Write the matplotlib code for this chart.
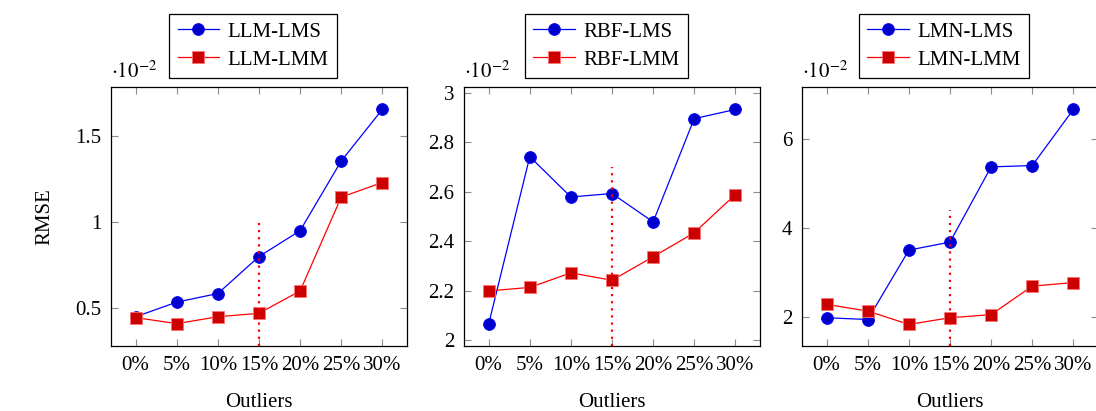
import matplotlib
matplotlib.use('Agg')
import matplotlib.pyplot as plt
from matplotlib.ticker import FuncFormatter

plt.rcParams['font.family'] = ['Liberation Serif', 'DejaVu Serif']
plt.rcParams['mathtext.fontset'] = 'stix'

# outlier percentages on the x axis
outliers = [0, 5, 10, 15, 20, 25, 30]
xlabels = ['0%', '5%', '10%', '15%', '20%', '25%', '30%']

# RMSE values, in units of 1e-2
llm_lms = [0.45, 0.535, 0.585, 0.80, 0.95, 1.355, 1.655]
llm_lmm = [0.445, 0.41, 0.45, 0.47, 0.60, 1.145, 1.23]
rbf_lms = [2.065, 2.742, 2.579, 2.593, 2.478, 2.896, 2.933]
rbf_lmm = [2.199, 2.213, 2.272, 2.242, 2.337, 2.434, 2.589]
lmn_lms = [1.99, 1.95, 3.51, 3.69, 5.38, 5.41, 6.67]
lmn_lmm = [2.29, 2.14, 1.84, 1.99, 2.06, 2.70, 2.78]

# height of the dotted marker line at 15%
cut_height = [1.0, 2.70, 4.4]

panels = [
    ('LLM', llm_lms, llm_lmm, (0.28, 1.785), [0.5, 1.0, 1.5]),
    ('RBF', rbf_lms, rbf_lmm, (1.976, 3.024), [2.0, 2.2, 2.4, 2.6, 2.8, 3.0]),
    ('LMN', lmn_lms, lmn_lmm, (1.355, 7.175), [2, 4, 6]),
]

W, H = 1096, 411
fig = plt.figure(figsize=(W / 100, H / 100), dpi=100)
lefts = [111, 464, 802]
width = 296
top, bottom = 87, 346
fs = 15

blue = (0, 0, 1)
red = (1, 0, 0)

for i, (name, lms, lmm, ylim, yticks) in enumerate(panels):
    ax = fig.add_axes([lefts[i] / W, 1 - bottom / H, width / W, (bottom - top) / H])
    ax.plot(outliers, lms, color=blue, lw=0.9, marker='o', ms=8.5,
            mfc=(0, 0, 0.8), mec=blue, mew=0.6, label=name + '-LMS')
    ax.plot(outliers, lmm, color=red, lw=0.9, marker='s', ms=8.5,
            mfc=(0.8, 0, 0), mec=(1, 0.45, 0.45), mew=0.6, label=name + '-LMM')
    ax.plot([15, 15], [ylim[0], cut_height[i]], color=red, lw=1.6,
            ls=(0, (1, 2.2)))
    ax.set_xlim(-3, 33)
    ax.set_ylim(*ylim)
    ax.set_xticks(outliers)
    ax.set_xticklabels(xlabels)
    ax.set_yticks(yticks)
    ax.yaxis.set_major_formatter(FuncFormatter(lambda v, p: '{:g}'.format(round(v, 3))))
    ax.tick_params(direction='in', length=5, width=0.8, color='0.55',
                   top=True, right=True, labelsize=fs, pad=7)
    for s in ax.spines.values():
        s.set_linewidth(0.9)
    ax.set_xlabel('Outliers', fontsize=fs, labelpad=13)
    if i == 0:
        ax.set_ylabel('RMSE', fontsize=fs, labelpad=15)
    ax.text(0.0, 1.015, r'$\cdot 10^{-2}$', transform=ax.transAxes,
            fontsize=fs, ha='left', va='bottom')
    leg = ax.legend(loc='lower center', bbox_to_anchor=(0.48, 1.035),
                    borderaxespad=0, fontsize=fs, frameon=True, fancybox=False,
                    edgecolor='black', framealpha=1, borderpad=0.4,
                    handlelength=2.0, labelspacing=0.4, handletextpad=0.4)
    leg.get_frame().set_linewidth(0.9)

fig.savefig('out.png', dpi=100)
